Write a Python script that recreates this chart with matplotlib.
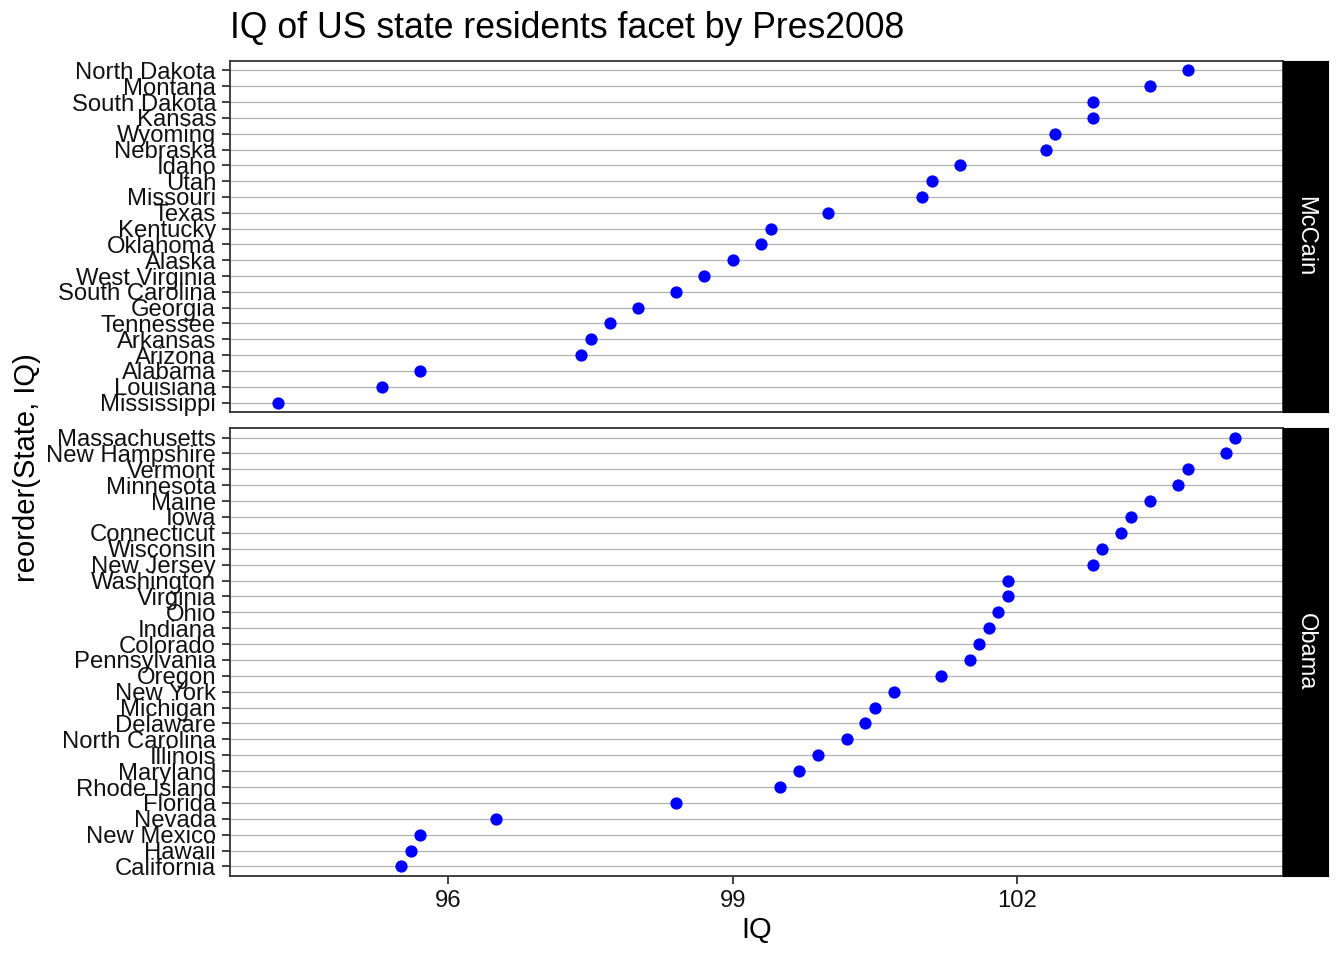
import matplotlib
matplotlib.use("Agg")
import matplotlib.pyplot as plt

plt.rcParams['font.family'] = ['Liberation Sans', 'DejaVu Sans']

# states listed bottom to top (ascending IQ)
mccain_states = ["Mississippi", "Louisiana", "Alabama", "Arizona", "Arkansas",
                 "Tennessee", "Georgia", "South Carolina", "West Virginia",
                 "Alaska", "Oklahoma", "Kentucky", "Texas", "Missouri", "Utah",
                 "Idaho", "Nebraska", "Wyoming", "Kansas", "South Dakota",
                 "Montana", "North Dakota"]
mccain_iq = [94.2, 95.3, 95.7, 97.4, 97.5, 97.7, 98.0, 98.4, 98.7, 99.0, 99.3,
             99.4, 100.0, 101.0, 101.1, 101.4, 102.3, 102.4, 102.8, 102.8,
             103.4, 103.8]

obama_states = ["California", "Hawaii", "New Mexico", "Nevada", "Florida",
                "Rhode Island", "Maryland", "Illinois", "North Carolina",
                "Delaware", "Michigan", "New York", "Oregon", "Pennsylvania",
                "Colorado", "Indiana", "Ohio", "Virginia", "Washington",
                "New Jersey", "Wisconsin", "Connecticut", "Iowa", "Maine",
                "Minnesota", "Vermont", "New Hampshire", "Massachusetts"]
obama_iq = [95.5, 95.6, 95.7, 96.5, 98.4, 99.5, 99.7, 99.9, 100.2, 100.4,
            100.5, 100.7, 101.2, 101.5, 101.6, 101.7, 101.8, 101.9, 101.9,
            102.8, 102.9, 103.1, 103.2, 103.4, 103.7, 103.8, 104.2, 104.3]

x_ticks = [96, 99, 102]
facets = [("McCain", mccain_states, mccain_iq), ("Obama", obama_states, obama_iq)]

W, H = 1344, 960
fig = plt.figure(figsize=(W / 100, H / 100), dpi=100)

left, right, strip_w = 230, 1283, 45
panels = [(61, 412), (428, 876)]

all_iq = mccain_iq + obama_iq
lo, hi = min(all_iq), max(all_iq)
pad = (hi - lo) * 0.05

for i, ((name, states, iq), (top, bot)) in enumerate(zip(facets, panels)):
    ax = fig.add_axes([left / W, 1 - bot / H, (right - left) / W, (bot - top) / H])
    ypos = list(range(len(states)))
    for y in ypos:
        ax.axhline(y, color="#b3b3b3", lw=0.9, zorder=1)
    ax.scatter(iq, ypos, s=78, color="#0000ff", zorder=3, linewidths=0)
    ax.set_ylim(-0.6, len(states) - 1 + 0.6)
    ax.set_xlim(lo - pad, hi + pad)
    ax.set_yticks(ypos)
    ax.set_yticklabels(states, fontsize=17.2, color="#111111")
    ax.set_xticks(x_ticks)
    ax.tick_params(axis="both", length=5.5, width=1.3, color="#333333", pad=4.5)
    if i == 1:
        ax.set_xticklabels([str(t) for t in x_ticks], fontsize=17.2, color="#111111")
        ax.set_xlabel("IQ", fontsize=21, labelpad=3)
    else:
        ax.tick_params(axis="x", length=0, labelbottom=False)
    for sp in ax.spines.values():
        sp.set_color("#333333")
        sp.set_linewidth(1.3)
    ax.set_axisbelow(True)

    sax = fig.add_axes([right / W, 1 - bot / H, strip_w / W, (bot - top) / H])
    sax.set_facecolor("black")
    sax.set_xticks([])
    sax.set_yticks([])
    for sp in sax.spines.values():
        sp.set_color("black")
    sax.text(0.5, 0.5, name, rotation=-90, color="white", fontsize=17,
             ha="center", va="center", transform=sax.transAxes)

fig.text(27 / W, 1 - 468 / H, "reorder(State, IQ)", rotation=90, fontsize=21,
         ha="center", va="center")
fig.text(left / W, 1 - 28 / H, "IQ of US state residents facet by Pres2008",
         fontsize=25.7, ha="left", va="center")

fig.savefig("out.png", dpi=100)
